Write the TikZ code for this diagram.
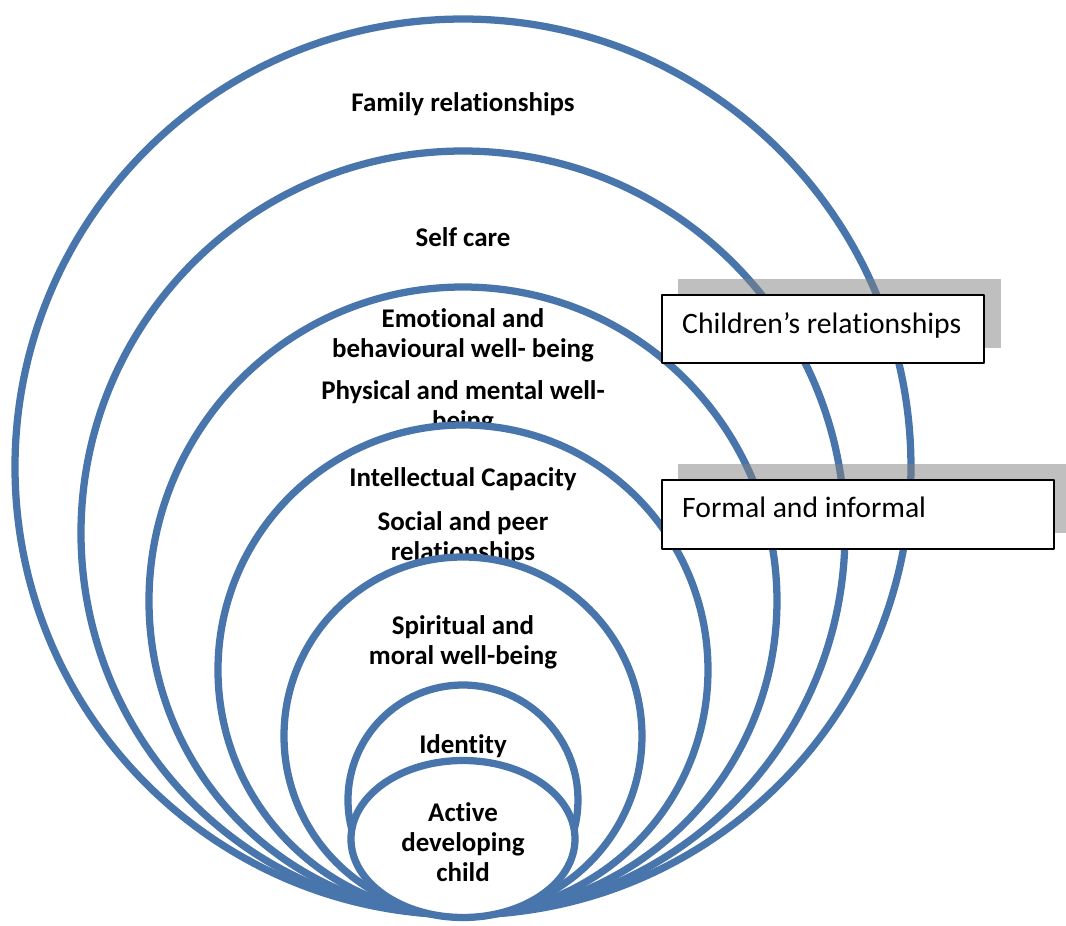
\documentclass[tikz,border=0pt]{standalone}
\usepackage{fontspec}
\setmainfont{Carlito}[Ligatures=NoCommon]
\usepackage{tkz-euclide}
\definecolor{ringblue}{RGB}{72,118,172}

\begin{document}
\begin{tikzpicture}[scale=3,
		ring/.style={draw=ringblue,line width=6.2pt,fill=white},
		lbl/.style={font=\bfseries\fontsize{23}{25.5}\selectfont,align=center,inner sep=0pt},
		boxtxt/.style={font=\fontsize{25.3}{30}\selectfont,inner sep=0pt,anchor=base west},
		shade/.style={fill=gray,fill opacity=0.5,draw=none},
		tag/.style={draw=black,line width=1.7pt,fill=white}]
		\useasboundingbox (0,0) rectangle (10.66,9.26);

		\tkzDefPoint(4.63,0.11){B}
		\tkzDefPoint(4.63,4.59){O1}
		\tkzDefPoint(4.63,3.93){O2}
		\tkzDefPoint(4.63,3.25){O3}
		\tkzDefPoint(4.63,2.56){O4}
		\tkzDefPoint(4.63,1.90){O5}
		\tkzDefPoint(4.63,1.26){O6}
		\tkzDefPoint(4.63,0.87){O7}

		\tkzDrawCircle[ring](O1,B)
		\node[lbl] (family) at (4.63,8.22) {Family relationships};
		\tkzDrawCircle[ring](O2,B)
		\node[lbl] (selfcare) at (4.63,6.89) {Self care};
		\tkzDrawCircle[ring](O3,B)
		\node[lbl] (emotional) at (4.63,5.91) {Emotional and\\behavioural well- being};
		\node[lbl] (physical) at (4.63,5.19) {Physical and mental well-\\being};
		\tkzDrawCircle[ring](O4,B)
		\node[lbl] (intellect) at (4.63,4.47) {Intellectual Capacity};
		\node[lbl] (social) at (4.63,3.88) {Social and peer\\relationships};
		\tkzDrawCircle[ring](O5,B)
		\node[lbl] (spiritual) at (4.63,2.84) {Spiritual and\\moral well-being};
		\tkzDrawCircle[ring](O6,B)
		\node[lbl] (identity) at (4.63,1.80) {Identity};
		\draw[ring] (O7) ellipse [x radius=1.12,y radius=0.785];
		\node[lbl] (child) at (4.63,0.835) {Active\\developing\\child};

		\tkzDefPoint(6.78,6.47){S1}
		\tkzDefPoint(10.01,6.47){S2}
		\tkzDefPoint(10.01,5.78){S3}
		\tkzDefPoint(6.78,5.78){S4}
		\fill[shade] (S1) -- (S2) -- (S3) -- (S4) -- cycle;
		\tkzDefPoint(6.62,6.31){E}
		\tkzDefPoint(9.84,6.31){F}
		\tkzDefPoint(9.84,5.63){G}
		\tkzDefPoint(6.62,5.63){H}
		\tkzDrawPolygon[tag](E,F,G,H)
		\node[boxtxt] (childrel) at (6.82,5.92) {Children’s relationships};

		\tkzDefPoint(6.78,4.62){T1}
		\tkzDefPoint(10.70,4.62){T2}
		\tkzDefPoint(10.70,3.93){T3}
		\tkzDefPoint(6.78,3.93){T4}
		\fill[shade] (T1) -- (T2) -- (T3) -- (T4) -- cycle;
		\tkzDefPoint(6.62,4.46){I}
		\tkzDefPoint(10.54,4.46){J}
		\tkzDefPoint(10.54,3.77){K}
		\tkzDefPoint(6.62,3.77){L}
		\tkzDrawPolygon[tag](I,J,K,L)
		\node[boxtxt] (formal) at (6.82,4.08) {Formal and informal};
	\end{tikzpicture}
\end{document}
